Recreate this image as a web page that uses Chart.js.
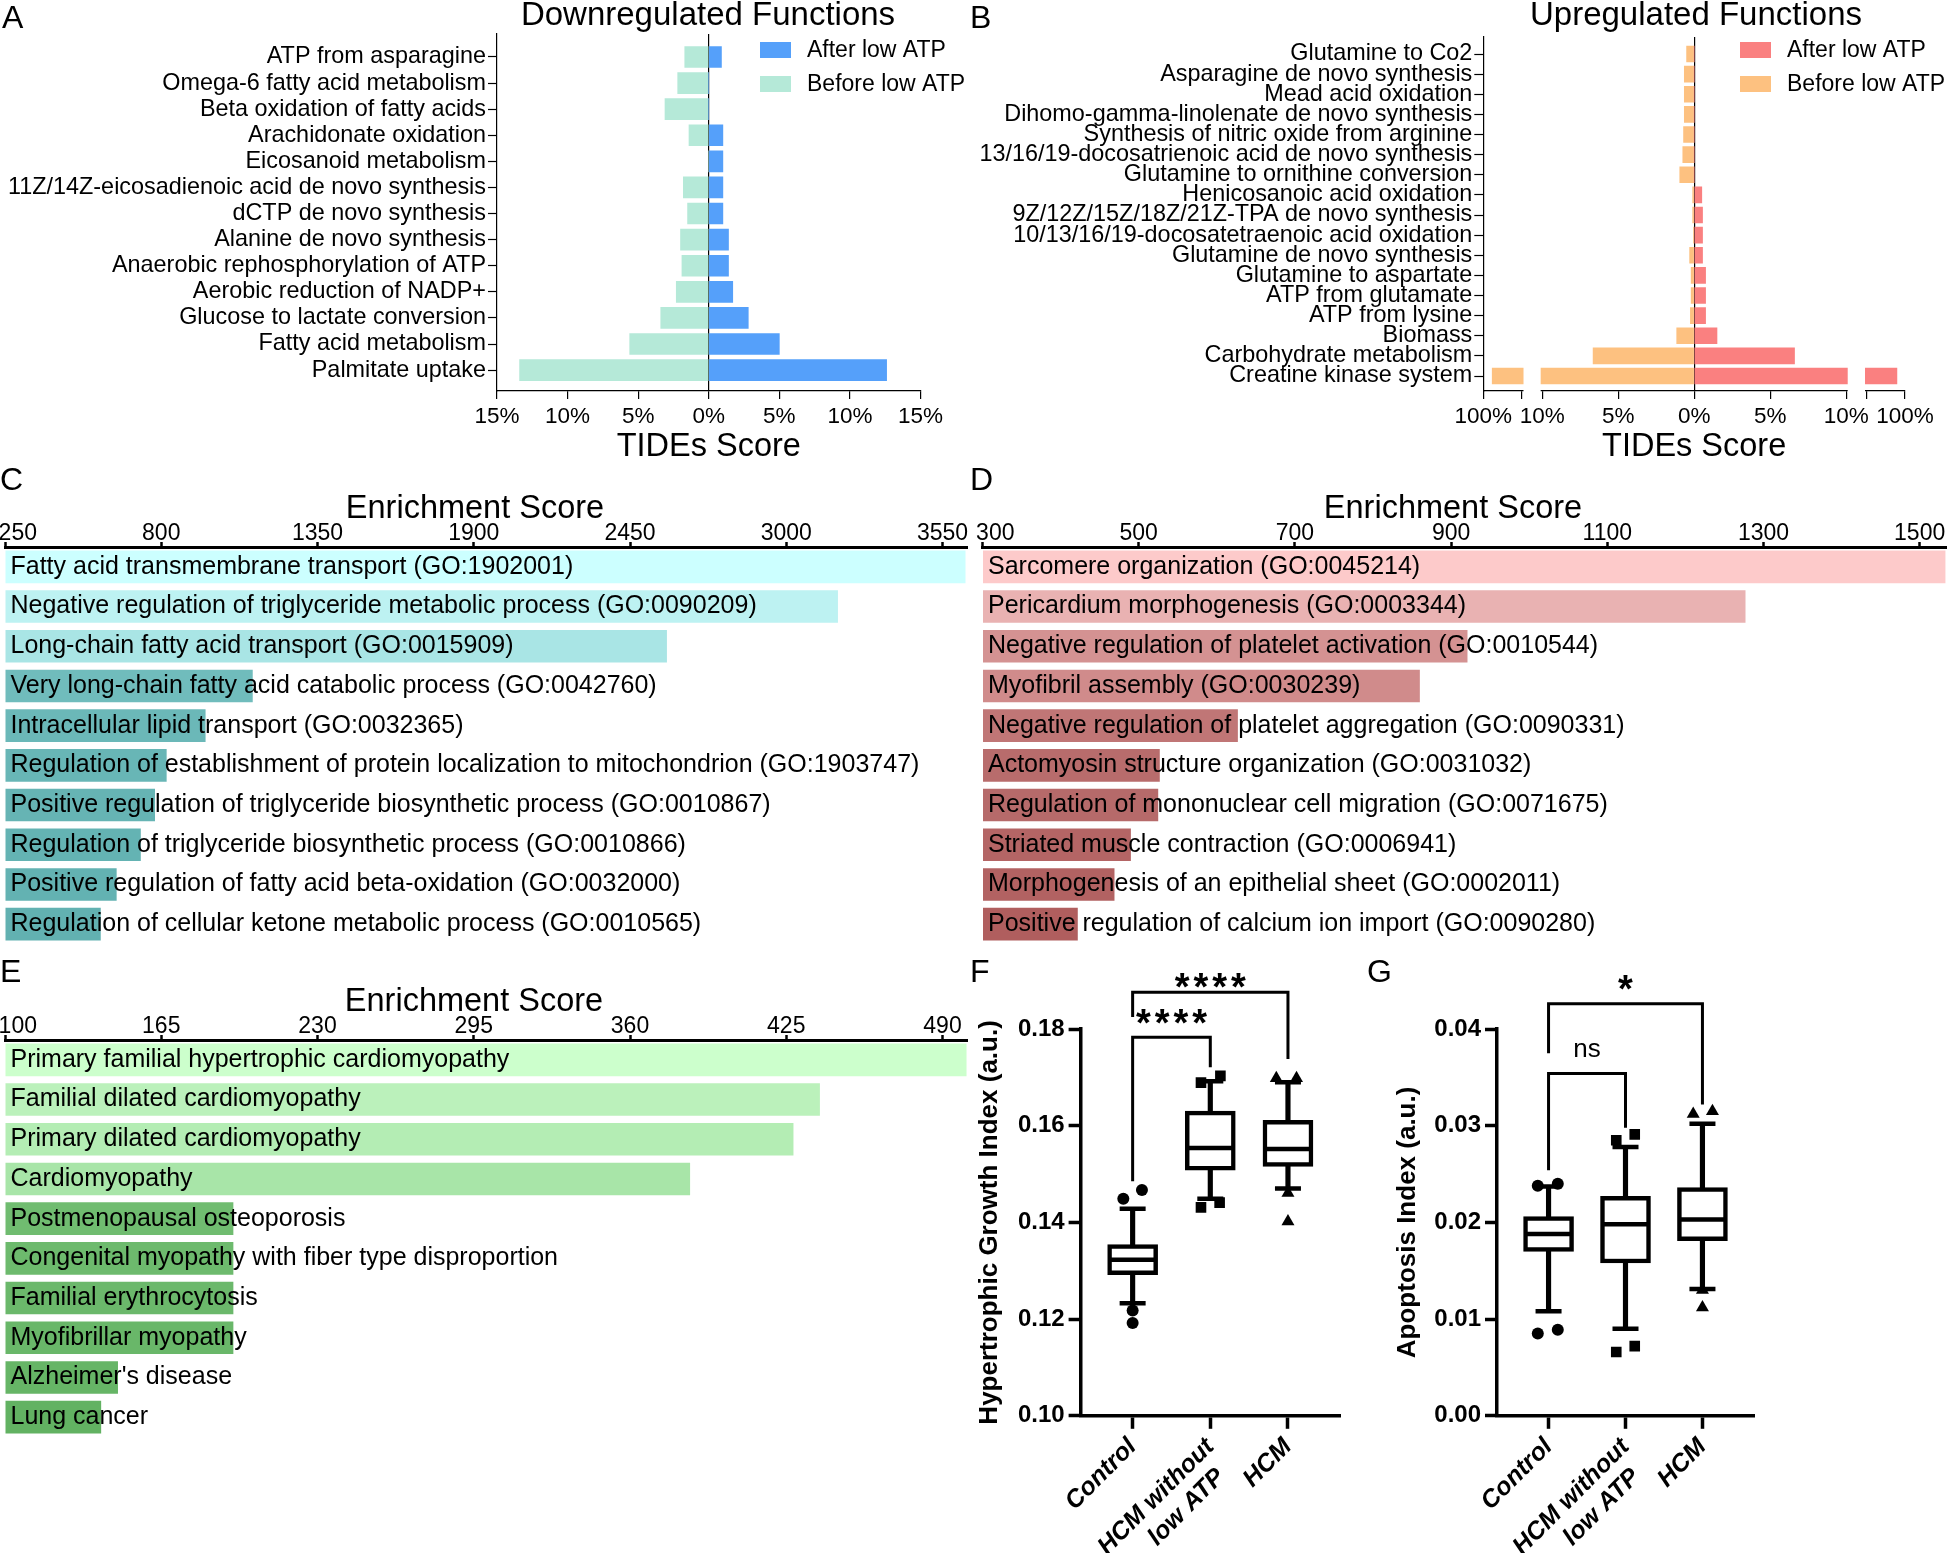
<!DOCTYPE html>
<html><head><meta charset="utf-8">
<script src="https://cdn.jsdelivr.net/npm/chart.js"></script>
<style>
html,body{margin:0;padding:0;background:#fff;}
#page{position:relative;width:1947px;height:1553px;overflow:hidden;background:#fff;font-family:'Liberation Sans',Arial,sans-serif;color:#000;}
canvas{position:absolute;}
.t{position:absolute;line-height:1;white-space:nowrap;}
.c{text-align:center;width:600px;}
</style></head><body><div id="page">
<canvas id="cA" width="970" height="470" style="left:0;top:0"></canvas>
<canvas id="cB" width="977" height="470" style="left:970px;top:0"></canvas>
<canvas id="cC" width="970" height="490" style="left:0;top:460px"></canvas>
<canvas id="cD" width="977" height="490" style="left:970px;top:460px"></canvas>
<canvas id="cE" width="970" height="500" style="left:0;top:940px"></canvas>
<canvas id="cF" width="400" height="613" style="left:970px;top:940px"></canvas>
<canvas id="cG" width="577" height="613" style="left:1370px;top:940px"></canvas>

<div class="t" style="left:2px;top:1px;font-size:32px">A</div>
<div class="t" style="left:970px;top:1px;font-size:32px">B</div>
<div class="t" style="left:0px;top:463px;font-size:32px">C</div>
<div class="t" style="left:970px;top:463px;font-size:32px">D</div>
<div class="t" style="left:0px;top:955px;font-size:32px">E</div>
<div class="t" style="left:970px;top:955px;font-size:32px">F</div>
<div class="t" style="left:1367px;top:955px;font-size:32px">G</div>
<div class="t c" style="left:408px;top:-3px;font-size:33px">Downregulated Functions</div>
<div class="t c" style="left:1396px;top:-3px;font-size:33px">Upregulated Functions</div>
<div class="t c" style="left:175px;top:491px;font-size:32.5px">Enrichment Score</div>
<div class="t c" style="left:1153px;top:491px;font-size:32.5px">Enrichment Score</div>
<div class="t c" style="left:174px;top:984px;font-size:32.5px">Enrichment Score</div>
</div>
<script>
// ---------------- DATA ----------------
const downCategories = ["ATP from asparagine","Omega-6 fatty acid metabolism","Beta oxidation of fatty acids","Arachidonate oxidation","Eicosanoid metabolism","11Z/14Z-eicosadienoic acid de novo synthesis","dCTP de novo synthesis","Alanine de novo synthesis","Anaerobic rephosphorylation of ATP","Aerobic reduction of NADP+","Glucose to lactate conversion","Fatty acid metabolism","Palmitate uptake"];
const downAfter  = [0.9, 0, 0, 1.0, 1.0, 1.0, 1.0, 1.4, 1.4, 1.7, 2.8, 5.0, 12.6];
const downBefore = [-1.7, -2.2, -3.1, -1.4, 0, -1.8, -1.5, -2.0, -1.9, -2.3, -3.4, -5.6, -13.4];
const downTicks = [-15, -10, -5, 0, 5, 10, 15];

const upCategories = ["Glutamine to Co2","Asparagine de novo synthesis","Mead acid oxidation","Dihomo-gamma-linolenate de novo synthesis","Synthesis of nitric oxide from arginine","13/16/19-docosatrienoic acid de novo synthesis","Glutamine to ornithine conversion","Henicosanoic acid oxidation","9Z/12Z/15Z/18Z/21Z-TPA de novo synthesis","10/13/16/19-docosatetraenoic acid oxidation","Glutamine de novo synthesis","Glutamine to aspartate","ATP from glutamate","ATP from lysine","Biomass","Carbohydrate metabolism","Creatine kinase system"];
const upAfter  = [0, 0, 0, 0, 0, 0, 0, 0.5, 0.55, 0.55, 0.55, 0.75, 0.75, 0.75, 1.5, 6.6, 97.9];
const upBefore = [-0.5, -0.65, -0.65, -0.65, -0.7, -0.75, -0.95, -0.1, -0.1, -0.05, -0.3, -0.2, -0.2, -0.25, -1.15, -6.65, -97.7];
const upTicks = [-100, -90, -10, -5, 0, 5, 10, 90, 100];
const upTickLabels = ["100%", "", "10%", "5%", "0%", "5%", "10%", "", "100%"];

const cTerms = ["Fatty acid transmembrane transport (GO:1902001)","Negative regulation of triglyceride metabolic process (GO:0090209)","Long-chain fatty acid transport (GO:0015909)","Very long-chain fatty acid catabolic process (GO:0042760)","Intracellular lipid transport (GO:0032365)","Regulation of establishment of protein localization to mitochondrion (GO:1903747)","Positive regulation of triglyceride biosynthetic process (GO:0010867)","Regulation of triglyceride biosynthetic process (GO:0010866)","Positive regulation of fatty acid beta-oxidation (GO:0032000)","Regulation of cellular ketone metabolic process (GO:0010565)"];
const cScores = [3631, 3182, 2580, 1122, 956, 819, 778, 728, 643, 587];
const cTicks = [250, 800, 1350, 1900, 2450, 3000, 3550];

const dTerms = ["Sarcomere organization (GO:0045214)","Pericardium morphogenesis (GO:0003344)","Negative regulation of platelet activation (GO:0010544)","Myofibril assembly (GO:0030239)","Negative regulation of platelet aggregation (GO:0090331)","Actomyosin structure organization (GO:0031032)","Regulation of mononuclear cell migration (GO:0071675)","Striated muscle contraction (GO:0006941)","Morphogenesis of an epithelial sheet (GO:0002011)","Positive regulation of calcium ion import (GO:0090280)"];
const dScores = [1533, 1277, 921, 860, 627, 527, 525, 490, 469, 422];
const dTicks = [300, 500, 700, 900, 1100, 1300, 1500];

const eTerms = ["Primary familial hypertrophic cardiomyopathy","Familial dilated cardiomyopathy","Primary dilated cardiomyopathy","Cardiomyopathy","Postmenopausal osteoporosis","Congenital myopathy with fiber type disproportion","Familial erythrocytosis","Myofibrillar myopathy","Alzheimer's disease","Lung cancer"];
const eScores = [500, 439, 428, 385, 195, 195, 195, 195, 147, 140];
const eTicks = [100, 165, 230, 295, 360, 425, 490];

const groupLabels = ["Control", ["HCM without", "low ATP  "], "HCM"];
// F: Hypertrophic Growth Index
const fLo  = [0.1233, 0.1449, 0.1470];
const fQ1  = [0.1292, 0.1508, 0.1516];
const fMed = [0.1323, 0.1554, 0.1552];
const fQ3  = [0.1354, 0.1630, 0.1611];
const fHi  = [0.1428, 0.1692, 0.1690];
const fOutVals = [[0.1449, 0.1467, 0.1218, 0.1192], [0.1689, 0.1703, 0.1431, 0.1441], [0.1698, 0.1698, 0.1461, 0.1402]];
const fOutDx   = [[-0.12, 0.12, 0, 0], [-0.12, 0.13, -0.12, 0.12], [-0.15, 0.11, 0, 0]];
const fTicks = [0.10, 0.12, 0.14, 0.16, 0.18];
const fBrackets = [
  {x1: 0, x2: 1, y1: 0.1485, yTop: 0.1783, y2: 0.1721},
  {x1: 0, x2: 2, y1: 0.1825, yTop: 0.1876, y2: 0.1738}
];
const fSig = [{x: 0.5, y: 0.1829, text: "****"}, {x: 1, y: 0.1905, text: "****"}];
// G: Apoptosis Index
const gLo  = [0.0108, 0.0090, 0.0131];
const gQ1  = [0.0170, 0.0158, 0.0181];
const gMed = [0.0188, 0.0198, 0.0203];
const gQ3  = [0.0206, 0.0227, 0.0236];
const gHi  = [0.0237, 0.0278, 0.0302];
const gOutVals = [[0.0238, 0.0240, 0.0085, 0.0089], [0.0285, 0.0291, 0.0066, 0.0072], [0.0312, 0.0315, 0.0130, 0.0112]];
const gOutDx   = [[-0.14, 0.12, -0.14, 0.12], [-0.12, 0.12, -0.12, 0.12], [-0.12, 0.13, 0, 0]];
const gTicks = [0, 0.01, 0.02, 0.03, 0.04];
const gBrackets = [
  {x1: 0, x2: 1, y1: 0.0254, yTop: 0.0354, y2: 0.0298},
  {x1: 0, x2: 2, y1: 0.0375, yTop: 0.0426, y2: 0.0322}
];
const gSig = [{x: 0.5, y: 0.0378, text: "ns"}, {x: 1, y: 0.0450, text: "*"}];

// ---------------- STYLE ----------------
const FONT = "'Liberation Sans', Arial, sans-serif";
Chart.defaults.font.family = FONT;
Chart.defaults.color = '#000';
Chart.defaults.animation = false;
Chart.defaults.events = [];
Chart.defaults.plugins.legend.display = false;
Chart.defaults.plugins.tooltip.enabled = false;

const noPad = s => { s.paddingLeft = 0; s.paddingRight = 0; s.paddingTop = 0; s.paddingBottom = 0; };
const fixW = w => s => { s.width = w; noPad(s); };
const fixH = h => s => { s.height = h; noPad(s); };
const setTicks = vals => s => { s.ticks = vals.map(v => ({value: v})); };
const toXY = arr => arr.map((v, i) => ({x: v, y: i}));

// broken axis for panel B (value ranges mapped to axis fractions)
const B_SEGMENTS = [
  {v0: -100, v1: -90, f0: 0, f1: 0.0918},
  {v0: -10, v1: 10, f0: 0.1396, f1: 0.8606},
  {v0: 90, v1: 100, f0: 0.9087, f1: 1}
];
function brokenFrac(value) {
  const s = B_SEGMENTS;
  if (value < s[0].v0) return s[0].f0 + (value - s[0].v0) / (s[0].v1 - s[0].v0) * (s[0].f1 - s[0].f0);
  for (let i = 0; i < s.length; i++) {
    const g = s[i];
    if (value <= g.v1) {
      if (value >= g.v0) return g.f0 + (value - g.v0) / (g.v1 - g.v0) * (g.f1 - g.f0);
      const p = s[i - 1];
      return p.f1 + (value - p.v1) / (g.v0 - p.v1) * (g.f0 - p.f1);
    }
  }
  const g = s[s.length - 1];
  return g.f1 + (value - g.v1) / (g.v1 - g.v0) * (g.f1 - g.f0);
}
class BrokenLinearScale extends Chart.LinearScale {
  getPixelForValue(value) {
    if (value === null || value === undefined || isNaN(value)) return NaN;
    return this.getPixelForDecimal(brokenFrac(value));
  }
  getValueForPixel(pixel) {
    const d = this.getDecimalForPixel(pixel);
    let lo = -1000, hi = 1000;
    for (let k = 0; k < 60; k++) { const m = (lo + hi) / 2; if (brokenFrac(m) < d) lo = m; else hi = m; }
    return (lo + hi) / 2;
  }
}
BrokenLinearScale.id = 'brokenLinear';
Chart.register(BrokenLinearScale);

const gapPlugin = {
  id: 'gapPlugin',
  afterDatasetsDraw(chart, args, opts) {
    const xs = chart.scales.x, {top, bottom} = chart.chartArea, ctx = chart.ctx;
    ctx.save(); ctx.fillStyle = '#fff';
    (opts.gaps || []).forEach(([a, b]) => {
      const x1 = xs.getPixelForValue(a) + 1.5, x2 = xs.getPixelForValue(b) - 1.5;
      ctx.fillRect(x1, top - 2, x2 - x1, bottom - top + 4);
    });
    ctx.restore();
  }
};

const boxLegend = {
  id: 'boxLegend',
  afterDraw(chart, args, o) {
    const ctx = chart.ctx;
    ctx.save();
    chart.data.datasets.forEach((ds, i) => {
      const y = o.y + i * o.gap;
      ctx.fillStyle = ds.backgroundColor;
      ctx.fillRect(o.x, y, o.w, o.h);
      ctx.fillStyle = '#000';
      ctx.font = o.size + 'px ' + FONT;
      ctx.textBaseline = 'middle'; ctx.textAlign = 'left';
      ctx.fillText(ds.label, o.textX, y + o.h / 2 + 1);
    });
    ctx.restore();
  }
};

const sigText = {
  id: 'sigText',
  afterDatasetsDraw(chart, args, o) {
    const ctx = chart.ctx, xs = chart.scales.x, ys = chart.scales.y;
    ctx.save(); ctx.fillStyle = '#000'; ctx.textAlign = 'center'; ctx.textBaseline = 'alphabetic';
    (o.items || []).forEach(it => {
      const star = it.text.indexOf('*') >= 0;
      const size = star ? 38 : 26;
      ctx.font = (star ? 'bold ' : '') + size + 'px ' + FONT;
      const sp = star ? 4 : 0;
      if ('letterSpacing' in ctx) ctx.letterSpacing = sp + 'px';
      const inkOffset = star ? 0.56 * size : 0.26 * size;
      ctx.fillText(it.text, xs.getPixelForValue(it.x) + sp / 2, ys.getPixelForValue(it.y) + inkOffset);
    });
    ctx.restore();
  }
};

function tornado(id, cats, after, before, colors, xOpts, pad, yMin, yMax, yWidth, barT, legendPos) {
  return new Chart(document.getElementById(id), {
    type: 'bar',
    data: {datasets: [
      {label: 'After low ATP', data: toXY(after), backgroundColor: colors[0], barThickness: barT, grouped: false},
      {label: 'Before low ATP', data: toXY(before), backgroundColor: colors[1], barThickness: barT, grouped: false}
    ]},
    options: {
      indexAxis: 'y', responsive: false,
      layout: {padding: pad},
      scales: {
        x: Object.assign({
          offset: false, afterFit: fixH(79),
          grid: {drawOnChartArea: true, offset: false, color: c => (c.tick && c.tick.value === 0) ? '#000' : 'rgba(0,0,0,0)', lineWidth: 1.2, tickColor: '#000', tickLength: 8, tickWidth: 1.2},
          border: {color: '#000', width: 1.2},
          title: {display: true, text: 'TIDEs Score', font: {size: 32.5}, padding: {top: 0, bottom: 3}}
        }, xOpts),
        y: {
          type: 'linear', reverse: true, min: yMin, max: yMax, offset: false,
          afterBuildTicks: setTicks(cats.map((_, i) => i)), afterFit: fixW(yWidth),
          grid: {drawOnChartArea: false, offset: false, tickColor: '#000', tickLength: 9, tickWidth: 1.2},
          border: {color: '#000', width: 1.2},
          ticks: {callback: v => cats[v], font: {size: 23.4}, padding: 2, autoSkip: false}
        }
      },
      plugins: {boxLegend: legendPos, gapPlugin: {gaps: xOpts.type === 'brokenLinear' ? [[-90, -10], [10, 90]] : []}}
    },
    plugins: [boxLegend, gapPlugin]
  });
}

tornado('cA', downCategories, downAfter, downBefore, ['#55a0fa', '#b5e9d8'], {
  type: 'linear', min: -15, max: 15, afterBuildTicks: setTicks(downTicks),
  ticks: {callback: v => Math.abs(v) + '%', font: {size: 22.5}, padding: 4.5, maxRotation: 0, autoSkip: false}
}, {left: 0, top: 34, right: 49.5, bottom: 0}, -0.88, 12.8, 497, 21,
  {x: 760, y: 42, w: 31, h: 16, gap: 34, textX: 807, size: 23});

tornado('cB', upCategories, upAfter, upBefore, ['#fa8080', '#fdc180'], {
  type: 'brokenLinear', min: -100, max: 100, afterBuildTicks: setTicks(upTicks),
  ticks: {callback: v => upTickLabels[upTicks.indexOf(v)], font: {size: 22.5}, padding: 4.5, maxRotation: 0, autoSkip: false}
}, {left: 0, top: 37, right: 42, bottom: 0}, -0.845, 16.745, 513.3, 16,
  {x: 770, y: 42, w: 31, h: 16, gap: 34, textX: 817, size: 23});

function enrich(id, terms, scores, colors, min, max, ticks, pad, topH) {
  return new Chart(document.getElementById(id), {
    type: 'bar',
    data: {labels: terms, datasets: [{data: scores, base: min, backgroundColor: colors, barPercentage: 0.82, categoryPercentage: 1}]},
    options: {
      indexAxis: 'y', responsive: false,
      layout: {padding: pad},
      scales: {
        x: {type: 'linear', position: 'top', min: min, max: max, afterBuildTicks: setTicks(ticks), afterFit: fixH(topH),
            grid: {drawOnChartArea: false, tickColor: '#000', tickLength: 5, tickWidth: 2.5},
            border: {color: '#000', width: 3},
            ticks: {font: {size: 23, lineHeight: 1}, padding: -3, maxRotation: 0, autoSkip: false,
                    callback: (v, i) => i === 0 ? '    ' + v : String(v)}},
        y: {type: 'category', position: 'left', z: 1, afterFit: fixW(0),
            grid: {display: false}, border: {display: false},
            ticks: {mirror: true, z: 1, padding: 5.5, font: {size: 25}, autoSkip: false}}
      }
    }
  });
}
enrich('cC', cTerms, cScores, ["#ccffff","#bdf2f2","#a9e5e5","#70bcbc","#6bb8b8","#68b6b6","#66b4b4","#64b3b3","#63b2b2","#62b1b1"],
  250, 3638, cTicks, {left: 5, top: 0, right: 2.5, bottom: 6}, 87);
enrich('cD', dTerms, dScores, ["#fdcaca","#e9b2b2","#d49292","#d08b8b","#c07676","#b86c6c","#b66a6a","#b46565","#b26262","#b05e5e"],
  300, 1535, dTicks, {left: 12.5, top: 0, right: 0, bottom: 6}, 87);
enrich('cE', eTerms, eScores, ["#ccffcc","#bbf1bb","#b4edb4","#a8e5a8","#70bc70","#6dba6d","#6bb86b","#69b769","#66b566","#62b262"],
  100, 500.4, eTicks, {left: 5, top: 0, right: 2.5, bottom: 3}, 100);

function boxChart(id, lo, q1, med, q3, hi, outVals, outDx, yMin, yMax, yTicks, yTitle, brackets, sig, pad, yWidth, titlePad) {
  const styles = ['circle', 'rect', 'triangle'];
  const radii = [6, 7.5, 7.5];
  const ds = [];
  ds.push({type: 'bar', data: q3.map((v, i) => ({x: i, y: [v, hi[i]]})).concat(q1.map((v, i) => ({x: i, y: [lo[i], v]}))),
           backgroundColor: '#000', barThickness: 4.5, grouped: false, order: 6});
  ds.push({type: 'bar', data: q1.map((v, i) => ({x: i, y: [v, q3[i]]})), backgroundColor: '#fff', borderColor: '#000',
           borderWidth: 4.5, borderSkipped: false, barThickness: 50, grouped: false, order: 5});
  ds.push({type: 'scatter', data: med.map((v, i) => ({x: i, y: v})), pointStyle: 'line', pointRadius: 24,
           pointBorderWidth: 4.5, pointBorderColor: '#000', order: 4});
  ds.push({type: 'scatter', data: lo.map((v, i) => ({x: i, y: v})).concat(hi.map((v, i) => ({x: i, y: v}))), pointStyle: 'line',
           pointRadius: 13, pointBorderWidth: 4.5, pointBorderColor: '#000', order: 4});
  outVals.forEach((vals, g) => {
    ds.push({type: 'scatter', data: vals.map((v, k) => ({x: g + outDx[g][k], y: v})), pointStyle: styles[g], pointRadius: radii[g],
             pointBackgroundColor: '#000', pointBorderColor: '#000', pointBorderWidth: 0, order: 3});
  });
  brackets.forEach(b => {
    ds.push({type: 'line', data: [{x: b.x1, y: b.y1}, {x: b.x1, y: b.yTop}, {x: b.x2, y: b.yTop}, {x: b.x2, y: b.y2}],
             borderColor: '#000', borderWidth: 3, pointRadius: 0, fill: false, tension: 0, clip: false,
             borderJoinStyle: 'miter', borderCapStyle: 'butt', order: 1});
  });
  return new Chart(document.getElementById(id), {
    type: 'bar',
    data: {datasets: ds},
    options: {
      responsive: false,
      layout: {padding: pad},
      scales: {
        x: {type: 'linear', min: -0.67, max: 2.67, offset: false, afterBuildTicks: setTicks([0, 1, 2]), afterFit: fixH(137.2),
            grid: {drawOnChartArea: false, offset: false, tickColor: '#000', tickLength: 13, tickWidth: 3.5},
            border: {color: '#000', width: 3.5},
            ticks: {callback: v => groupLabels[v], minRotation: 45, maxRotation: 45, autoSkip: false, padding: 4,
                    font: {size: 25, weight: 'bold', style: 'italic', lineHeight: 1.15}}},
        y: {type: 'linear', min: yMin, max: yMax, afterBuildTicks: setTicks(yTicks), afterFit: fixW(yWidth),
            grid: {drawOnChartArea: false, tickColor: '#000', tickLength: 12, tickWidth: 3.5},
            border: {color: '#000', width: 3.5},
            ticks: {callback: v => v.toFixed(2), font: {size: 24, weight: 'bold'}, padding: 4, autoSkip: false},
            title: {display: true, text: yTitle, font: {size: 26, weight: 'bold'}, padding: {top: titlePad, bottom: 0}}}
      },
      plugins: {sigText: {items: sig}}
    },
    plugins: [sigText]
  });
}
boxChart('cF', fLo, fQ1, fMed, fQ3, fHi, fOutVals, fOutDx, 0.10, 0.18, fTicks, 'Hypertrophic Growth Index (a.u.)',
  fBrackets, fSig, {left: 0, top: 89, right: 30, bottom: 0}, 110.6, 4.4);
boxChart('cG', gLo, gQ1, gMed, gQ3, gHi, gOutVals, gOutDx, 0, 0.04, gTicks, 'Apoptosis Index (a.u.)',
  gBrackets, gSig, {left: 0, top: 89, right: 193, bottom: 0}, 127, 22.4);
</script>
</body></html>
